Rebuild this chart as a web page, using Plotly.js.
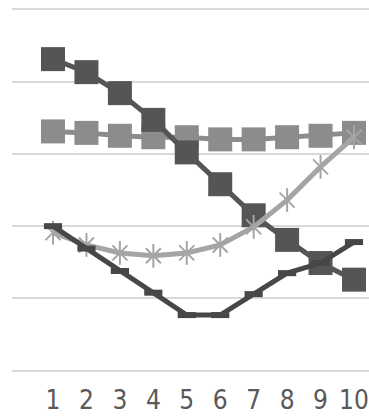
<!DOCTYPE html>
<html>
<head>
<meta charset="utf-8">
<script src="https://cdn.plot.ly/plotly-3.0.1.min.js"></script>
<style>html,body{margin:0;padding:0;background:#fff;}#chart{width:369px;height:420px;}</style>
</head>
<body>
<div id="chart"></div>
<script>
const categories = [1, 2, 3, 4, 5, 6, 7, 8, 9, 10];
const tickLabels = ["1", "2", "3", "4", "5", "6", "7", "8", "9", "10"];
const seriesDarkSquares = [4.31, 4.13, 3.84, 3.47, 3.02, 2.58, 2.15, 1.81, 1.49, 1.26];
const seriesMediumSquares = [3.31, 3.29, 3.25, 3.23, 3.23, 3.20, 3.20, 3.23, 3.25, 3.29];
const seriesStars = [1.91, 1.74, 1.63, 1.59, 1.63, 1.74, 1.99, 2.36, 2.82, 3.23];
const seriesDarkLine = [2.00, 1.69, 1.38, 1.08, 0.77, 0.77, 1.06, 1.35, 1.49, 1.78];

const traces = [
  {x: categories, y: seriesMediumSquares, type: 'scatter', mode: 'lines+markers',
   line: {color: '#8c8c8c', width: 5},
   marker: {symbol: 'square', size: 24, color: '#8c8c8c'}},
  {x: categories, y: seriesDarkSquares, type: 'scatter', mode: 'lines+markers',
   line: {color: '#555555', width: 5},
   marker: {symbol: 'square', size: 24, color: '#555555'}},
  {x: categories, y: seriesStars, type: 'scatter', mode: 'lines+markers',
   line: {color: '#a5a5a5', width: 5},
   marker: {symbol: 'x-thin-open', size: 15, color: '#a5a5a5', line: {color: '#a5a5a5', width: 2}}},
  {x: categories, y: seriesStars, type: 'scatter', mode: 'markers',
   marker: {symbol: 'line-ns-open', size: 17, color: '#a5a5a5', line: {color: '#a5a5a5', width: 2}}},
  {x: categories, y: seriesDarkLine, type: 'scatter', mode: 'lines+markers',
   line: {color: '#474747', width: 5},
   marker: {symbol: 'line-ew-open', size: 13, color: '#474747', line: {color: '#474747', width: 6}}}
];

const layout = {
  width: 369, height: 420,
  margin: {l: 12, r: 0, t: 2, b: 42},
  paper_bgcolor: '#ffffff', plot_bgcolor: '#ffffff',
  showlegend: false,
  xaxis: {
    range: [-0.226, 10.449], tickmode: 'array', tickvals: categories, ticktext: tickLabels,
    showgrid: false, zeroline: false, showline: false, ticks: '', tickangle: 0,
    ticklabeloverflow: 'allow', ticklabelstandoff: 4,
    tickfont: {family: 'Liberation Sans Narrow, DejaVu Sans Condensed, sans-serif', size: 26, color: '#595959'},
    fixedrange: true
  },
  yaxis: {
    range: [-0.1, 5.1], tickmode: 'array', tickvals: [0, 1, 2, 3, 4, 5],
    showticklabels: false, showgrid: true, gridcolor: '#d9d9d9', gridwidth: 2,
    zeroline: false, showline: false, ticks: '', fixedrange: true
  }
};

Plotly.newPlot('chart', traces, layout, {displayModeBar: false, staticPlot: true});
</script>
</body>
</html>
